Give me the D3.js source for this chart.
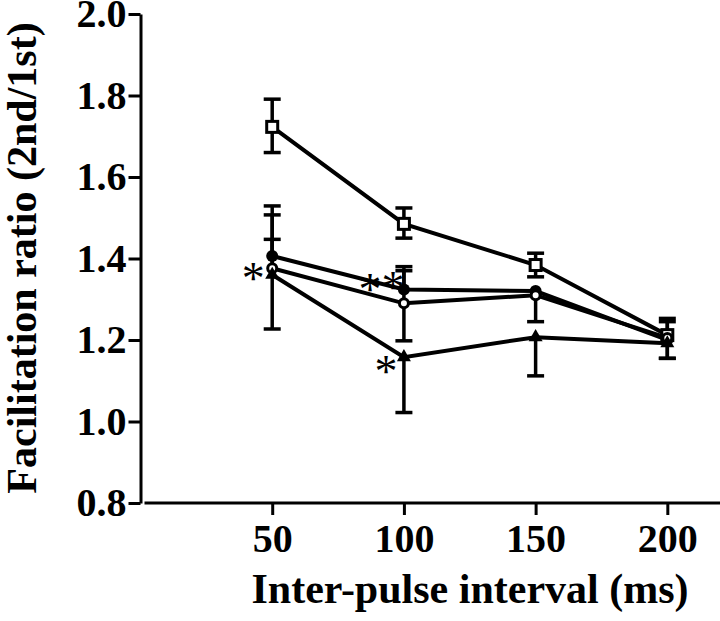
<!DOCTYPE html>
<html>
<head>
<meta charset="utf-8">
<script src="https://cdn.jsdelivr.net/npm/d3@7"></script>
<style>
  html, body { margin: 0; padding: 0; background: #fff; }
  text { font-family: "Liberation Serif", "Times New Roman", serif; }
</style>
</head>
<body>
<div id="chart"></div>
<script>
// data
const intervals = [50, 100, 150, 200];
const xTicks = [50, 100, 150, 200];
const yTicks = [0.8, 1.0, 1.2, 1.4, 1.6, 1.8, 2.0];

// open square
const sqMean = [1.723, 1.485, 1.384, 1.212];
const sqUp   = [0.068, 0.039, 0.029, 0.041];
const sqDown = [0.063, 0.035, 0.029, 0];
// filled circle
const fcMean = [1.406, 1.324, 1.320, 1.200];
const fcUp   = [0.123, 0.056, 0, 0.045];
const fcDown = [0, 0, 0, 0];
// open circle
const ocMean = [1.376, 1.290, 1.310, 1.205];
const ocUp   = [0.131, 0.080, 0, 0];
const ocDown = [0, 0.092, 0.065, 0.050];
// filled triangle
const trMean = [1.360, 1.158, 1.207, 1.192];
const trUp   = [0.087, 0, 0, 0];
const trDown = [0.133, 0.136, 0.095, 0.037];

// significance marks: [interval, value, dx, dy]
const stars = [[50, 1.376, -19, 2], [100, 1.324, -34, -8], [100, 1.324, -11, -10], [100, 1.158, -18, 6]];

const width = 720;
const height = 621;

const x = d3.scaleLinear([0, 220], [140.5, 720]);
const y = d3.scaleLinear([0.8, 2.0], [503, 14]);

const svg = d3.create("svg")
    .attr("width", width)
    .attr("height", height);

// y axis
const yAxis = svg.append("g")
    .attr("transform", `translate(${x(0)},0)`)
    .call(d3.axisLeft(y).tickValues(yTicks).tickFormat(d3.format(".1f"))
        .tickSize(12).tickSizeOuter(0).tickPadding(2));

// x axis
const xAxis = svg.append("g")
    .attr("transform", `translate(0,${y(0.8)})`)
    .call(d3.axisBottom(x).tickValues(xTicks).tickSize(12).tickSizeOuter(0).tickPadding(9));
xAxis.select(".domain").attr("d", `M${x(0) + 4},0H${x(220)}`);

svg.selectAll(".domain, .tick line")
    .attr("stroke", "#000")
    .attr("stroke-width", 3);
svg.selectAll(".tick text")
    .attr("fill", "#000")
    .attr("font-size", 40)
    .attr("font-weight", "bold")
    .attr("font-family", "'Liberation Serif', 'Times New Roman', serif");

// axis titles
svg.append("text")
    .text("Inter-pulse interval (ms)")
    .attr("x", 470)
    .attr("y", 603)
    .attr("text-anchor", "middle")
    .attr("font-size", 42)
    .attr("font-weight", "bold");

svg.append("text")
    .text("Facilitation ratio (2nd/1st)")
    .attr("transform", "rotate(-90)")
    .attr("x", -258)
    .attr("y", 36)
    .attr("text-anchor", "middle")
    .attr("font-size", 42)
    .attr("font-weight", "bold");

const series = [
    {mean: sqMean, up: sqUp, down: sqDown, shape: "square"},
    {mean: fcMean, up: fcUp, down: fcDown, shape: "dot"},
    {mean: ocMean, up: ocUp, down: ocDown, shape: "ring"},
    {mean: trMean, up: trUp, down: trDown, shape: "triangle"}
];

const line = d3.line()
    .x((d, i) => x(intervals[i]))
    .y(d => y(d));

// lines
series.forEach(s => {
    svg.append("path")
        .attr("d", line(s.mean))
        .attr("fill", "none")
        .attr("stroke", "#000")
        .attr("stroke-width", 4);
});

// error bars
const errs = svg.append("g").attr("stroke", "#000").attr("stroke-width", 3.5);
series.forEach(s => {
    s.mean.forEach((m, i) => {
        const cx = x(intervals[i]);
        [[s.up[i], 1], [s.down[i], -1]].forEach(([e, sign]) => {
            if (!e) return;
            const yy = y(m + sign * e);
            errs.append("line").attr("x1", cx).attr("x2", cx).attr("y1", y(m)).attr("y2", yy);
            errs.append("line").attr("x1", cx - 8.5).attr("x2", cx + 8.5).attr("y1", yy).attr("y2", yy);
        });
    });
});

// markers
series.forEach(s => {
    s.mean.forEach((m, i) => {
        const cx = x(intervals[i]), cy = y(m);
        if (s.shape === "square") {
            svg.append("rect")
                .attr("x", cx - 5.5).attr("y", cy - 5.5)
                .attr("width", 11).attr("height", 11)
                .attr("fill", "#fff").attr("stroke", "#000").attr("stroke-width", 3);
        } else if (s.shape === "dot") {
            svg.append("circle").attr("cx", cx).attr("cy", cy).attr("r", 6).attr("fill", "#000");
        } else if (s.shape === "ring") {
            svg.append("circle").attr("cx", cx).attr("cy", cy).attr("r", 4.5)
                .attr("fill", "#fff").attr("stroke", "#000").attr("stroke-width", 3);
        } else {
            svg.append("path")
                .attr("d", d3.symbol(d3.symbolTriangle, 85)())
                .attr("transform", `translate(${cx},${cy})`)
                .attr("fill", "#000");
        }
    });
});

// asterisks
stars.forEach(([iv, v, dx, dy]) => {
    svg.append("text")
        .text("*")
        .attr("x", x(iv) + dx)
        .attr("y", y(v) + dy + 24)
        .attr("text-anchor", "middle")
        .attr("font-size", 46)
        .attr("fill", "#000");
});

document.getElementById("chart").append(svg.node());
</script>
</body>
</html>
